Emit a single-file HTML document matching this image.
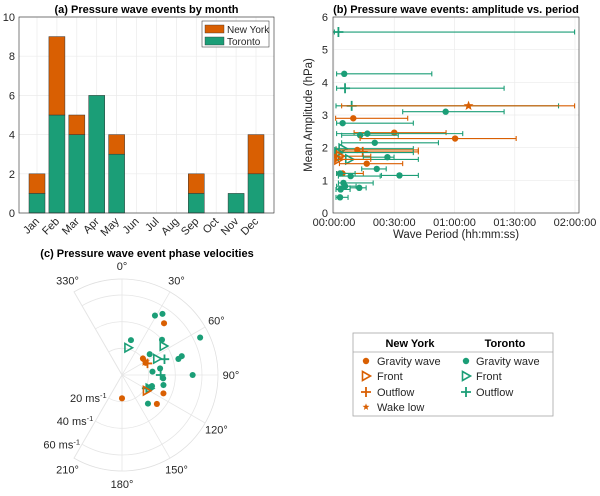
<!DOCTYPE html>
<html><head><meta charset="utf-8"><style>
body{margin:0;background:#fff;}
svg{font-family:"Liberation Sans",Arial,sans-serif;}
</style></head><body>
<svg id="fig" width="600" height="491" viewBox="0 0 600 491" xmlns="http://www.w3.org/2000/svg">
<g id="pa"></g>
<g id="pb"></g>
<g id="pc"></g>
<g id="lg"></g>
</svg>
<script>
// ---- Panel A data ----
const months=["Jan","Feb","Mar","Apr","May","Jun","Jul","Aug","Sep","Oct","Nov","Dec"];
const torontoCounts=[1,5,4,6,3,0,0,0,1,0,1,2];
const newYorkCounts=[1,4,1,0,1,0,0,0,1,0,0,2];
const aTicks=[0,2,4,6,8,10];
// ---- Panel B data: minutes, amplitude, err low, err high ----
const bStation=["T","T","T","T","N","T","N","T","N","T","T","N","T","T","N","N","T","N","T","T","N","N","T","T","N","T","T","T","T","T","T","T"];
const bType=["o","g","o","o","w","g","g","g","g","g","g","g","g","f","g","o","f","f","g","f","g","f","g","g","g","g","g","g","g","g","g","g"];
const bPeriod=[2.2,5.1,5.5,8.8,67,55.6,9.6,4.3,30,16.6,13,60.3,20.3,4.3,11.6,14.3,2.2,3,26.6,7.6,16.3,2.2,21.3,32.6,4.2,3,8.3,4.7,5.5,12.6,3.3,3];
const bAmp=[5.54,4.26,3.82,3.28,3.28,3.10,2.90,2.75,2.46,2.43,2.38,2.28,2.15,1.97,1.93,1.87,1.85,1.74,1.71,1.64,1.51,1.64,1.35,1.15,1.21,1.21,1.13,0.92,0.82,0.77,0.72,0.48];
const bErrLo=[0.2,1.3,1.3,1,3.8,34.2,0.8,1.3,10,1.3,3.8,13,3.8,1,1.3,1.3,0.8,1,14.6,2.2,2.7,1,13.8,23.6,1.3,1.3,2.2,2.2,1.3,8,1,1];
const bErrHi=[119.8,48.7,84.7,111.8,119.8,84.7,36.7,39.5,55.8,64.1,32,90.7,52,39.5,42,42,39.5,18.3,29.9,42,34.2,18.3,26,42,14.6,10.5,23,19.5,11,16,8,7];
const bXTicks=[0,30,60,90,120];
const bXLabels=["00:00:00","00:30:00","01:00:00","01:30:00","02:00:00"];
const bYTicks=[0,1,2,3,4,5,6];
// ---- Panel C data: direction (deg), speed (m/s) ----
const cStation=["T","T","T","T","T","T","T","T","T","T","T","T","T","T","T","T","N","N","N","N","N","N","T","T","T","T","T","T","T","N","N","N"];
const cType=["g","g","g","g","g","g","g","g","g","g","g","g","g","g","g","g","g","g","g","g","g","g","f","f","f","f","o","o","o","f","o","w"];
const cDir=[29,33.5,14.4,48.6,64.4,74.1,72.5,53.1,80.2,83.7,90,103.6,110.3,137.8,113.3,94.7,39.1,51.7,62.8,113.9,129.7,180,12.9,55.1,65.2,116,69.6,90,118.4,122.4,65.6,60.6];
const cSpeed=[51,55,27,40,65,44,47,26,29,23,53,32,24,29,23,31,50,20,20,34,34,17.5,21,38,29,23,34,29,21,22,21,20];
const cRings=[20,40,60];
const cAngles=[330,0,30,60,90,120,150,180,210];

const NS="http://www.w3.org/2000/svg";
const OR="#d95f02",GR="#1b9e77";
function mk(p,t,a){const e=document.createElementNS(NS,t);for(const k in a)e.setAttribute(k,a[k]);p.appendChild(e);return e;}
function txt(p,x,y,s,a){const e=mk(p,"text",Object.assign({x:x,y:y,"font-size":11,fill:"#262626"},a||{}));e.textContent=s;return e;}

// ===== Panel A =====
const pa=document.getElementById("pa");
const aL=19,aR=274,aT=17,aB=213;
const ay=v=>aB-(v/10)*(aB-aT);
const ax=i=>37+i*((256-37)/11);
mk(pa,"rect",{x:aL,y:aT,width:aR-aL,height:aB-aT,fill:"#fff"});
aTicks.forEach(t=>{
  const gl=mk(pa,"line",{x1:aL,x2:aR,y1:ay(t),y2:ay(t),stroke:"#ebebeb","stroke-width":0.7});
  
  const tl=txt(pa,aL-4,ay(t)+4,String(t),{"text-anchor":"end"});
  
});
months.forEach((m,i)=>{
  mk(pa,"line",{x1:ax(i),x2:ax(i),y1:aT,y2:aB,stroke:"#ebebeb","stroke-width":0.7});
  const tl=txt(pa,ax(i)+3,aB+9,m,{"text-anchor":"end",transform:`rotate(-45 ${ax(i)+3} ${aB+9})`});
  
});
const bw=16;
months.forEach((m,i)=>{
  if(torontoCounts[i]>0){const r=mk(pa,"rect",{x:ax(i)-bw/2,y:ay(torontoCounts[i]),width:bw,height:ay(0)-ay(torontoCounts[i]),fill:GR,stroke:"#333","stroke-width":0.5});
    }
  if(newYorkCounts[i]>0){const top=torontoCounts[i]+newYorkCounts[i];const r=mk(pa,"rect",{x:ax(i)-bw/2,y:ay(top),width:bw,height:ay(torontoCounts[i])-ay(top),fill:OR,stroke:"#333","stroke-width":0.5});
    }
});
mk(pa,"rect",{x:aL,y:aT,width:aR-aL,height:aB-aT,fill:"none",stroke:"#262626","stroke-width":0.6});
txt(pa,(aL+aR)/2,13,"(a) Pressure wave events by month",{"text-anchor":"middle","font-weight":"bold","font-size":11,fill:"#000"});
const la=mk(pa,"g",{});
mk(la,"rect",{x:202,y:21,width:67,height:26,fill:"#fff",stroke:"#262626","stroke-width":0.5});
mk(la,"rect",{x:205,y:25,width:19,height:8,fill:OR,stroke:"#333","stroke-width":0.4});
txt(la,227,33,"New York",{"font-size":10});
mk(la,"rect",{x:205,y:37,width:19,height:8,fill:GR,stroke:"#333","stroke-width":0.4});
txt(la,227,45,"Toronto",{"font-size":10});

// ===== Panel B =====
const pb=document.getElementById("pb");
const bL=333,bR=579,bT=17,bB=213;
const bx=v=>334+v*(575-334)/120;
const by=v=>bB-v*(bB-bT)/6;
bYTicks.forEach(t=>{
  mk(pb,"line",{x1:bL,x2:bR,y1:by(t),y2:by(t),stroke:"#ebebeb","stroke-width":0.7});
  const tl=txt(pb,bL-5,by(t)+4,String(t),{"text-anchor":"end"});
  
});
bXTicks.forEach((t,i)=>{
  mk(pb,"line",{x1:bx(t),x2:bx(t),y1:bT,y2:bB,stroke:"#ebebeb","stroke-width":0.7});
  const tl=txt(pb,bx(t),bB+13,bXLabels[i],{"text-anchor":"middle"});
  
});
function marker(p,type,x,y,c,s){
  s=s||1;
  if(type==="g") return mk(p,"circle",{cx:x,cy:y,r:3.2*s,fill:c});
  if(type==="f") return mk(p,"path",{d:`M${x-3.5*s},${y-4.5*s}L${x+4.5*s},${y}L${x-3.5*s},${y+4.5*s}Z`,fill:"none",stroke:c,"stroke-width":1.6});
  if(type==="o") return mk(p,"path",{d:`M${x-5*s},${y}H${x+5*s}M${x},${y-5*s}V${y+5*s}`,stroke:c,"stroke-width":1.8});
  let d="";for(let k=0;k<10;k++){const rr=(k%2?2.2:5.2)*s,a=-Math.PI/2+k*Math.PI/5;d+=(k?"L":"M")+(x+rr*Math.cos(a)).toFixed(2)+","+(y+rr*Math.sin(a)).toFixed(2);}
  return mk(p,"path",{d:d+"Z",fill:c});
}
bPeriod.forEach((v,i)=>{
  const c=bStation[i]==="N"?OR:GR;
  const g=mk(pb,"g",{});
  
  
  const y=by(bAmp[i]);
  mk(g,"path",{d:`M${bx(bErrLo[i])},${y}H${bx(bErrHi[i])}M${bx(bErrLo[i])},${y-2.5}V${y+2.5}M${bx(bErrHi[i])},${y-2.5}V${y+2.5}`,stroke:c,"stroke-width":1.1,fill:"none"});
  marker(g,bType[i],bx(v),y,c);
});
mk(pb,"rect",{x:bL,y:bT,width:bR-bL,height:bB-bT,fill:"none",stroke:"#262626","stroke-width":0.6});
txt(pb,456,13,"(b) Pressure wave events: amplitude vs. period",{"text-anchor":"middle","font-weight":"bold","font-size":11,fill:"#000"});
const bxt=txt(pb,456,238,"Wave Period (hh:mm:ss)",{"text-anchor":"middle","font-size":11.5});

const byt=txt(pb,312,115,"Mean Amplitude (hPa)",{"text-anchor":"middle","font-size":11.5,transform:"rotate(-90 312 115)"});


// ===== Panel C =====
const pc=document.getElementById("pc");
const cx0=122,cy0=375,pxPer=1.333,rMax=96;
const pt=(deg,r)=>{const a=deg*Math.PI/180;return [cx0+r*Math.sin(a),cy0-r*Math.cos(a)];};
txt(pc,147,257,"(c) Pressure wave event phase velocities",{"text-anchor":"middle","font-weight":"bold","font-size":11,fill:"#000"});
function arc(r){const [x1,y1]=pt(-30,r),[x2,y2]=pt(210,r);return `M${x1},${y1}A${r},${r} 0 1 1 ${x2},${y2}`;}
mk(pc,"path",{d:arc(rMax)+`L${cx0},${cy0}Z`,fill:"#fff",stroke:"#e0e0e0","stroke-width":0.8});
cRings.forEach(r=>mk(pc,"path",{d:arc(r*pxPer),fill:"none",stroke:"#e6e6e6","stroke-width":0.8}));
cAngles.forEach(a=>{
  const [x,y]=pt(a,rMax);mk(pc,"line",{x1:cx0,y1:cy0,x2:x,y2:y,stroke:"#e6e6e6","stroke-width":0.8});
  const [lx,ly]=pt(a,rMax+13);
  const tl=txt(pc,lx,ly+4,a+"°",{"text-anchor":"middle"});
  
});
cRings.forEach(r=>{
  const [x,y]=pt(210,r*pxPer);
  const tl=txt(pc,x-2,y+4,r+" ms",{"text-anchor":"end"});
  
  const sp=mk(pc,"tspan",{dy:-4,"font-size":7.5});sp.textContent="-1";tl.appendChild(sp);
});
cDir.forEach((d,i)=>{
  const c=cStation[i]==="N"?OR:GR;
  const [x,y]=pt(d,cSpeed[i]*pxPer);
  const m=marker(pc,cType[i],x,y,c,0.95);
  
  
});

// ===== Legend =====
const lg=document.getElementById("lg");
mk(lg,"rect",{x:353,y:333,width:200,height:83,fill:"#fff",stroke:"#a6a6a6","stroke-width":0.8});
mk(lg,"line",{x1:353,x2:553,y1:352,y2:352,stroke:"#a6a6a6","stroke-width":0.8});
txt(lg,410,347,"New York",{"text-anchor":"middle","font-weight":"bold","font-size":11,fill:"#000"});
txt(lg,505,347,"Toronto",{"text-anchor":"middle","font-weight":"bold","font-size":11,fill:"#000"});
const lrows=[["g","Gravity wave",361],["f","Front",376],["o","Outflow",392],["w","Wake low",407]];
lrows.forEach(r=>{
  marker(lg,r[0],366,r[2],OR,r[0]==="w"?0.7:1);txt(lg,377,r[2]+4,r[1],{"font-size":11});
  if(r[0]!=="w"){marker(lg,r[0],466,r[2],GR);txt(lg,476,r[2]+4,r[1],{"font-size":11});}
});
</script>
</body></html>
